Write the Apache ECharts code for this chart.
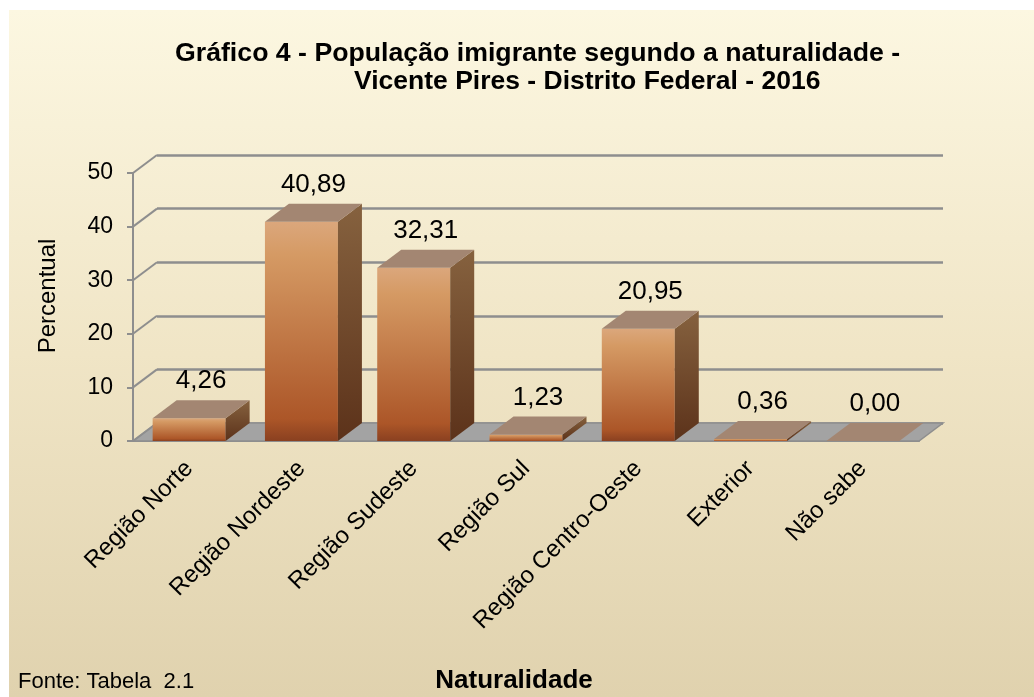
<!DOCTYPE html>
<html>
<head>
<meta charset="utf-8">
<title>Gráfico 4</title>
<script src="https://cdn.jsdelivr.net/npm/echarts@6/dist/echarts.min.js"></script>
<style>
html, body { margin: 0; padding: 0; background: #fff; }
#grafico { width: 1034px; height: 697px; }
</style>
</head>
<body>
<div id="grafico"></div>
<script>
// dados do gráfico
var categorias = ['Região Norte', 'Região Nordeste', 'Região Sudeste', 'Região Sul', 'Região Centro-Oeste', 'Exterior', 'Não sabe'];
var percentuais = [4.26, 40.89, 32.31, 1.23, 20.95, 0.36, 0.00];
var marcasY = [0, 10, 20, 30, 40, 50];

var fonte = 'Liberation Sans, Arial, sans-serif';
var DX = 24, DY = -18; // profundidade do efeito 3D
var cinza = '#8e8e8e';

function virgula(v) {
	return v.toFixed(2).replace('.', ',');
}

var chart = echarts.init(document.getElementById('grafico'));

var option = {
	animation: false,
	textStyle: { fontFamily: fonte, color: '#000' },
	graphic: [{
		type: 'rect',
		left: 9, top: 10, z: -10,
		shape: { width: 1025, height: 687 },
		style: {
			fill: new echarts.graphic.LinearGradient(0, 0, 0, 1, [
				{ offset: 0, color: '#fcf7e1' },
				{ offset: 0.5, color: '#f0e5c6' },
				{ offset: 1, color: '#e0d2ae' }
			])
		}
	}, {
		type: 'text',
		x: 48, y: 296, rotation: Math.PI / 2, z: 5,
		style: {
			text: 'Percentual', font: '24px ' + fonte, fill: '#000',
			textAlign: 'center', textVerticalAlign: 'middle'
		}
	}],
	title: [
		{ text: 'Gráfico 4 - População imigrante segundo a naturalidade -', left: 170, top: 35,
			textStyle: { fontFamily: fonte, fontSize: 26.7, fontWeight: 'bold', color: '#000' } },
		{ text: 'Vicente Pires - Distrito Federal - 2016', left: 349, top: 63,
			textStyle: { fontFamily: fonte, fontSize: 26.5, fontWeight: 'bold', color: '#000' } },
		{ text: 'Fonte: Tabela  2.1', left: 13, top: 666,
			textStyle: { fontFamily: fonte, fontSize: 22, fontWeight: 'normal', color: '#000' } }
	],
	grid: [
		{ left: 133, top: 173, width: 786, height: 268 },
		{ left: 133 + DX, top: 173 + DY, width: 786, height: 268 }
	],
	xAxis: [
		{
			type: 'category', gridIndex: 0, data: categorias,
			name: 'Naturalidade', nameLocation: 'middle', nameGap: 227,
			nameTextStyle: { fontFamily: fonte, fontSize: 26, fontWeight: 'bold', color: '#000', padding: [0, 24, 0, 0] },
			axisLine: { lineStyle: { color: cinza, width: 2 } },
			axisTick: { length: 7, lineStyle: { color: cinza, width: 2 } },
			axisLabel: { rotate: 45, margin: 24, fontSize: 24, color: '#000', fontFamily: fonte, interval: 0 },
			splitLine: { show: false }
		},
		{ type: 'category', gridIndex: 1, data: categorias, show: false }
	],
	yAxis: [
		{
			type: 'value', gridIndex: 0, min: 0, max: 50, interval: 10,
			axisLine: { show: true, lineStyle: { color: cinza, width: 2 } },
			axisTick: { show: true, length: 6, lineStyle: { color: cinza, width: 2 } },
			axisLabel: { margin: 20, fontSize: 23, color: '#000', fontFamily: fonte },
			splitLine: { show: false }
		},
		{
			type: 'value', gridIndex: 1, min: 0, max: 50, interval: 10,
			axisLine: { show: false }, axisTick: { show: false }, axisLabel: { show: false },
			splitLine: { show: true, lineStyle: { color: cinza, width: 2.5 } }
		}
	],
	series: [
		{
			// piso e parede lateral
			type: 'custom', xAxisIndex: 0, yAxisIndex: 0, z: 1, silent: true,
			data: marcasY.map(function (v) { return [0, v]; }),
			renderItem: function (params, api) {
				var cs = params.coordSys;
				var y = api.coord([0, api.value(1)])[1];
				var xl = cs.x;
				var filhos = [{
					type: 'line',
					shape: { x1: xl, y1: y, x2: xl + DX, y2: y + DY },
					style: { stroke: cinza, lineWidth: 2 }
				}];
				if (api.value(1) === 0) {
					var xr = cs.x + cs.width;
					filhos.unshift({
						type: 'polygon',
						shape: { points: [[xl, y], [xr, y], [xr + DX, y + DY], [xl + DX, y + DY]] },
						style: { fill: '#a3a3a3', stroke: cinza, lineWidth: 1.5 }
					});
				}
				return { type: 'group', children: filhos };
			}
		},
		{
			// barras 3D
			type: 'custom', xAxisIndex: 0, yAxisIndex: 0, z: 3,
			data: percentuais.map(function (v, i) { return [i, v]; }),
			renderItem: function (params, api) {
				var topo = api.coord([api.value(0), api.value(1)]);
				var base = api.coord([api.value(0), 0]);
				var bw = api.size([1, 0])[0] * 0.65;
				var x0 = topo[0] - bw / 2, x1 = topo[0] + bw / 2;
				var yt = topo[1], yb = base[1];
				return {
					type: 'group',
					children: [
						{
							type: 'rect',
							shape: { x: x0, y: yt, width: bw, height: yb - yt },
							style: {
								fill: new echarts.graphic.LinearGradient(0, 0, 0, 1, [
									{ offset: 0, color: '#dba77c' },
									{ offset: 0.15, color: '#d59a64' },
									{ offset: 0.9, color: '#ac5628' },
									{ offset: 1, color: '#8a4020' }
								])
							}
						},
						{
							type: 'polygon',
							shape: { points: [[x1, yt], [x1 + DX, yt + DY], [x1 + DX, yb + DY], [x1, yb]] },
							style: {
								fill: new echarts.graphic.LinearGradient(0, 0, 0, 1, [
									{ offset: 0, color: '#86623f' },
									{ offset: 1, color: '#5c321a' }
								])
							}
						},
						{
							type: 'polygon',
							shape: { points: [[x0, yt], [x1, yt], [x1 + DX, yt + DY], [x0 + DX, yt + DY]] },
							style: { fill: '#a38672' }
						},
						{
							type: 'text',
							style: {
								text: virgula(api.value(1)),
								x: (x0 + x1) / 2 + DX / 2, y: yt + DY - 6,
								textAlign: 'center', textVerticalAlign: 'bottom',
								font: '26px ' + fonte, fill: '#000'
							}
						}
					]
				};
			}
		}
	]
};

chart.setOption(option);
</script>
</body>
</html>
